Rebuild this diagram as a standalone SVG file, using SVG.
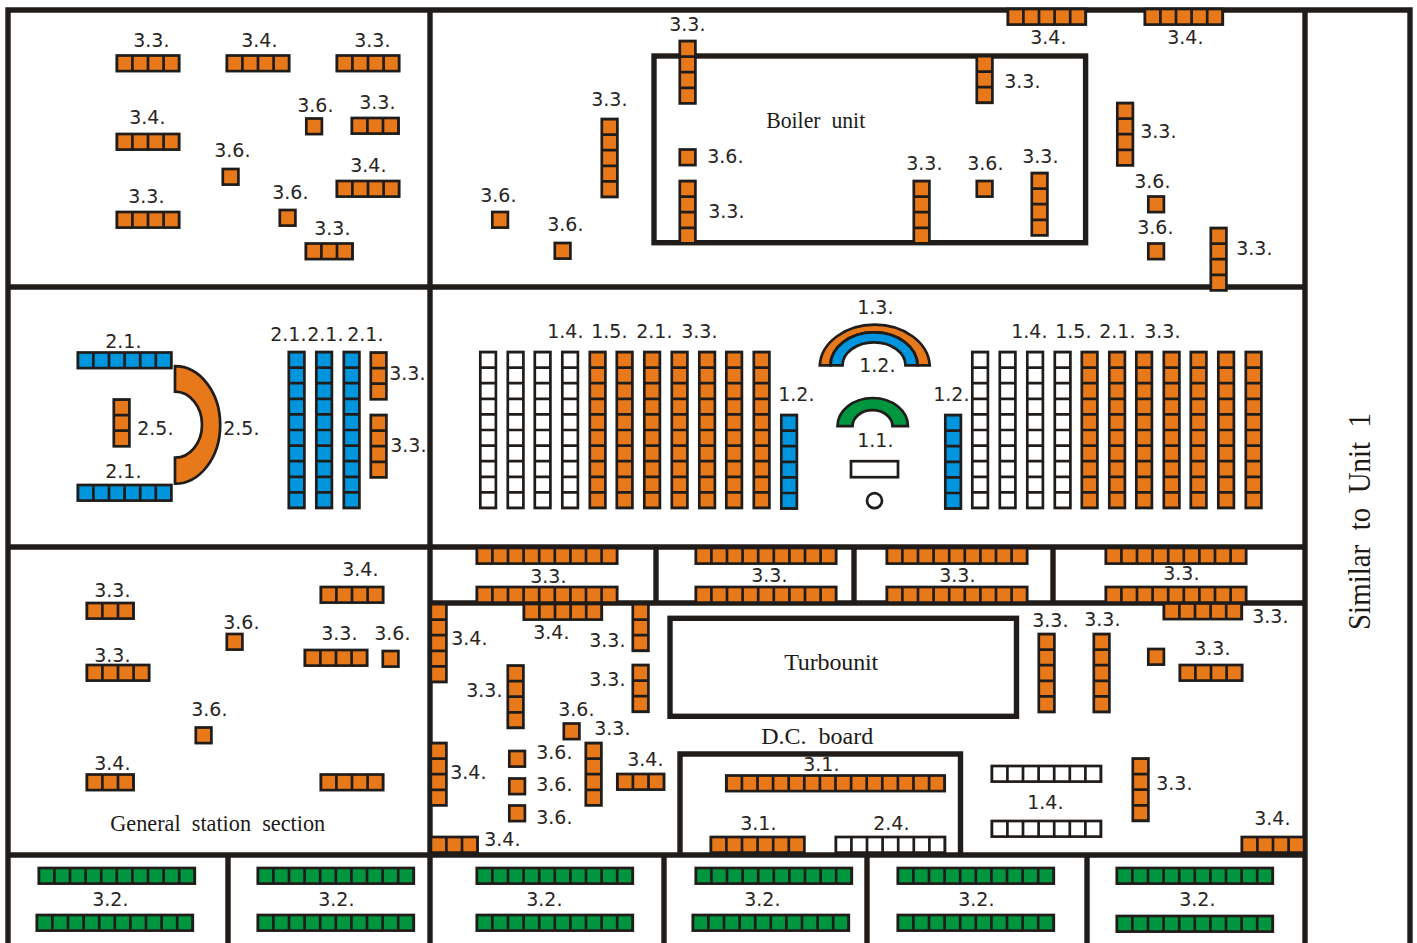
<svg xmlns="http://www.w3.org/2000/svg" width="1417" height="943" viewBox="0 0 1417 943">
<style>
.wall{fill:none;stroke:#201c19;stroke-width:5.4}
.c{stroke:#201c19;stroke-width:2.7;stroke-linejoin:miter}
.d{fill:none;stroke:#201c19;stroke-width:15.6;stroke-dasharray:2.7 12.9;stroke-dashoffset:1.35}
.o{fill:#e8791a}.b{fill:#0095dd}.g{fill:#009640}.w{fill:#fff}
.shape{stroke:#201c19;stroke-width:2.7}
text{font-family:"DejaVu Sans",sans-serif;font-size:19px;fill:#2a2522}
text.s{font-family:"Liberation Serif",serif;font-size:24px;fill:#1d1a18;word-spacing:6px}
</style>
<defs>
<rect id="s1" class="c" x="1.3" y="1.3" width="15.6" height="15.6"/>
<g id="h3"><rect class="c" x="1.3" y="1.3" width="46.8" height="15.6"/><path class="d" d="M1.3 9.1h46.8"/></g>
<g id="h4"><rect class="c" x="1.3" y="1.3" width="62.4" height="15.6"/><path class="d" d="M1.3 9.1h62.4"/></g>
<g id="h5"><rect class="c" x="1.3" y="1.3" width="78" height="15.6"/><path class="d" d="M1.3 9.1h78"/></g>
<g id="h6"><rect class="c" x="1.3" y="1.3" width="93.6" height="15.6"/><path class="d" d="M1.3 9.1h93.6"/></g>
<g id="h7"><rect class="c" x="1.3" y="1.3" width="109.2" height="15.6"/><path class="d" d="M1.3 9.1h109.2"/></g>
<g id="h9"><rect class="c" x="1.3" y="1.3" width="140.4" height="15.6"/><path class="d" d="M1.3 9.1h140.4"/></g>
<g id="h10"><rect class="c" x="1.3" y="1.3" width="156" height="15.6"/><path class="d" d="M1.3 9.1h156"/></g>
<g id="h14"><rect class="c" x="1.3" y="1.3" width="218.4" height="15.6"/><path class="d" d="M1.3 9.1h218.4"/></g>
<g id="v3"><rect class="c" x="1.3" y="1.3" width="15.6" height="46.8"/><path class="d" d="M9.1 1.3v46.8"/></g>
<g id="v4"><rect class="c" x="1.3" y="1.3" width="15.6" height="62.4"/><path class="d" d="M9.1 1.3v62.4"/></g>
<g id="v5"><rect class="c" x="1.3" y="1.3" width="15.6" height="78"/><path class="d" d="M9.1 1.3v78"/></g>
<g id="v6"><rect class="c" x="1.3" y="1.3" width="15.6" height="93.6"/><path class="d" d="M9.1 1.3v93.6"/></g>
<g id="v10"><rect class="c" x="1.3" y="1.3" width="15.6" height="156"/><path class="d" d="M9.1 1.3v156"/></g>
</defs>
<rect width="1417" height="943" fill="#fff"/>
<g id="walls">
<path class="wall" d="M8 943V10H1410V943M1305 10V943M430 10V943M8 287H1305M8 547H1305M430 603H1305M8 855H1305M656 547V603M854 547V603M1053 547V603M228 855V943M664 855V943M867 855V943M1087 855V943"/>
<rect id="boiler-unit" class="wall" x="654" y="56" width="431.6" height="186.7"/>
<rect id="turbounit" class="wall" x="670" y="618.300" width="346.5" height="98"/>
<path id="dc-board" class="wall" d="M680 855V754H960.500V855"/>
</g>
<g id="equipment" transform="translate(-.5 -.3)">
<g id="general-section-top">
<use href="#h4" x="116" y="54.5" class="o"/><use href="#h4" x="226" y="54.5" class="o"/><use href="#h4" x="336" y="54.5" class="o"/>
<use href="#h4" x="116" y="133" class="o"/><use href="#h3" x="351" y="117" class="o"/><use href="#s1" x="305.500" y="117.500" class="o"/>
<use href="#s1" x="222" y="168" class="o"/><use href="#h4" x="336" y="180" class="o"/><use href="#h4" x="116" y="211" class="o"/>
<use href="#s1" x="279" y="209" class="o"/><use href="#h3" x="305" y="242.500" class="o"/>
</g>
<g id="boiler-section">
<use href="#v4" x="679" y="40" class="o"/><use href="#v5" x="601" y="118" class="o"/><use href="#s1" x="491.500" y="211" class="o"/>
<use href="#s1" x="554" y="242" class="o"/><use href="#s1" x="679" y="148.500" class="o"/><use href="#v4" x="679" y="180" class="o"/>
<use href="#v3" x="976" y="55" class="o"/><use href="#v4" x="913" y="180" class="o"/><use href="#s1" x="976" y="180" class="o"/>
<use href="#v4" x="1031" y="172" class="o"/><use href="#h5" x="1007" y="8" class="o"/><use href="#h5" x="1144" y="8" class="o"/>
<use href="#v4" x="1116.500" y="102" class="o"/><use href="#s1" x="1147.500" y="195.500" class="o"/><use href="#s1" x="1147.500" y="242.500" class="o"/>
<use href="#v4" x="1210" y="227" class="o"/>
</g>
<g id="left-section">
<use href="#h6" x="77" y="351.500" class="b"/><use href="#h6" x="77" y="484" class="b"/><use href="#v3" x="113" y="398.500" class="o"/>
<use href="#v10" x="288" y="351" class="b"/><use href="#v10" x="315.500" y="351" class="b"/><use href="#v10" x="343" y="351" class="b"/>
<use href="#v3" x="370" y="351.500" class="o"/><use href="#v4" x="370" y="414" class="o"/>
<path id="arc-2-5" class="shape o" d="M175.500 366.500A45 58.500 0 0 1 175.500 484V458A27 33 0 0 0 175.500 392Z"/>
</g>
<g id="hall-left">
<use href="#v10" x="479.500" y="351" class="w"/><use href="#v10" x="507" y="351" class="w"/><use href="#v10" x="534" y="351" class="w"/><use href="#v10" x="561.500" y="351" class="w"/>
<use href="#v10" x="589" y="351" class="o"/><use href="#v10" x="616" y="351" class="o"/><use href="#v10" x="643.500" y="351" class="o"/><use href="#v10" x="671" y="351" class="o"/>
<use href="#v10" x="698.500" y="351" class="o"/><use href="#v10" x="725.500" y="351" class="o"/><use href="#v10" x="753" y="351" class="o"/><use href="#v6" x="780.500" y="414" class="b"/>
</g>
<g id="hall-centre">
<path id="arch-1-3" class="shape o" d="M820.300 365.700A55 42.500 0 0 1 930.200 365.700H918A43.500 33 0 0 0 831 365.700Z"/>
<path id="arch-1-2" class="shape b" d="M831 365.700A43.500 33 0 0 1 918 365.700H906A31.500 23 0 0 0 843 365.700Z"/>
<path id="arch-1-1" class="shape g" d="M838 426.500A35 28 0 0 1 908.500 426.500H893A20 16 0 0 0 853 426.500Z"/>
<rect id="rect-1-1" class="shape w" x="851.500" y="461.500" width="47" height="16"/>
<circle id="circle-1-1" class="shape w" cx="875" cy="501" r="7.500"/>
</g>
<g id="hall-right">
<use href="#v6" x="944.500" y="414" class="b"/><use href="#v10" x="971.500" y="351" class="w"/><use href="#v10" x="999" y="351" class="w"/><use href="#v10" x="1026.500" y="351" class="w"/><use href="#v10" x="1054" y="351" class="w"/>
<use href="#v10" x="1081" y="351" class="o"/><use href="#v10" x="1108.500" y="351" class="o"/><use href="#v10" x="1135.500" y="351" class="o"/><use href="#v10" x="1163" y="351" class="o"/>
<use href="#v10" x="1190" y="351" class="o"/><use href="#v10" x="1217.500" y="351" class="o"/><use href="#v10" x="1245" y="351" class="o"/>
</g>
<g id="corridor">
<use href="#h9" x="476" y="547" class="o"/><use href="#h9" x="476" y="586" class="o"/><use href="#h9" x="695" y="547" class="o"/><use href="#h9" x="695" y="586" class="o"/>
<use href="#h9" x="886" y="547" class="o"/><use href="#h9" x="886" y="586" class="o"/><use href="#h9" x="1105" y="547" class="o"/><use href="#h9" x="1105" y="586" class="o"/>
</g>
<g id="general-section-bottom">
<use href="#h3" x="86" y="602" class="o"/><use href="#h4" x="320" y="586" class="o"/><use href="#s1" x="226" y="633" class="o"/><use href="#h4" x="304" y="649" class="o"/>
<use href="#s1" x="382" y="650" class="o"/><use href="#h4" x="86" y="664" class="o"/><use href="#s1" x="195" y="726.500" class="o"/><use href="#h3" x="86" y="773.500" class="o"/><use href="#h4" x="320" y="773.500" class="o"/>
</g>
<g id="turbine-west">
<use href="#h5" x="523" y="603" class="o"/><use href="#v3" x="632" y="603" class="o"/><use href="#v3" x="632" y="664" class="o"/><use href="#v5" x="430" y="603" class="o"/>
<use href="#v4" x="507" y="664.500" class="o"/><use href="#s1" x="563" y="722.500" class="o"/><use href="#v4" x="585" y="742" class="o"/><use href="#h3" x="616.500" y="773" class="o"/>
<use href="#s1" x="508.500" y="750" class="o"/><use href="#s1" x="508.500" y="777.500" class="o"/><use href="#s1" x="508.500" y="804.500" class="o"/>
<use href="#v4" x="430" y="742" class="o"/><use href="#h3" x="430" y="836" class="o"/>
</g>
<g id="dc-board-equipment">
<use href="#h14" x="725.500" y="774.500" class="o"/><use href="#h6" x="710" y="836" class="o"/><use href="#h7" x="835" y="836" class="w"/>
</g>
<g id="turbine-east">
<use href="#v5" x="1038" y="633" class="o"/><use href="#v5" x="1093" y="633" class="o"/><use href="#s1" x="1147.500" y="648" class="o"/><use href="#h4" x="1179" y="664" class="o"/>
<use href="#h5" x="1163" y="602.500" class="o"/><use href="#h7" x="991" y="765" class="w"/><use href="#h7" x="991" y="820" class="w"/><use href="#v4" x="1132" y="757.500" class="o"/>
<use href="#h4" x="1241" y="836" class="o"/>
</g>
<g id="bottom-row">
<use href="#h10" x="38" y="867" class="g"/><use href="#h10" x="36" y="914" class="g"/><use href="#h10" x="257" y="867" class="g"/><use href="#h10" x="257" y="914" class="g"/>
<use href="#h10" x="476" y="867" class="g"/><use href="#h10" x="476" y="914" class="g"/><use href="#h10" x="695" y="867" class="g"/><use href="#h10" x="692" y="914" class="g"/>
<use href="#h10" x="897" y="867" class="g"/><use href="#h10" x="897" y="914" class="g"/><use href="#h10" x="1116" y="867" class="g"/><use href="#h10" x="1116" y="915" class="g"/>
</g>
</g>
<g id="labels" transform="translate(-.8 0)">
<text x="134" y="47">3.3.</text><text x="242" y="47">3.4.</text><text x="355" y="47">3.3.</text><text x="130" y="124">3.4.</text><text x="298" y="112">3.6.</text><text x="360" y="109">3.3.</text><text x="215" y="157">3.6.</text><text x="351" y="172">3.4.</text><text x="129" y="203">3.3.</text><text x="273" y="199">3.6.</text><text x="315" y="235">3.3.</text>
<text x="670" y="31">3.3.</text><text x="592" y="106">3.3.</text><text x="481" y="202">3.6.</text><text x="548" y="231">3.6.</text><text x="708" y="163">3.6.</text><text x="709" y="218">3.3.</text><text x="1005" y="88">3.3.</text><text x="907" y="170">3.3.</text><text x="968" y="170">3.6.</text><text x="1023" y="163">3.3.</text><text x="1031" y="44">3.4.</text><text x="1168" y="44">3.4.</text><text x="1141" y="138">3.3.</text><text x="1135" y="188">3.6.</text><text x="1138" y="234">3.6.</text><text x="1237" y="255">3.3.</text>
<text x="106" y="348">2.1.</text><text x="138" y="435">2.5.</text><text x="224" y="435">2.5.</text><text x="106" y="478">2.1.</text><text x="271" y="341">2.1.</text><text x="308" y="341">2.1.</text><text x="348" y="341">2.1.</text><text x="390" y="380">3.3.</text><text x="391" y="452">3.3.</text>
<text x="548" y="338">1.4.</text><text x="592" y="338">1.5.</text><text x="637" y="338">2.1.</text><text x="682" y="338">3.3.</text><text x="858" y="314">1.3.</text><text x="860" y="372">1.2.</text><text x="779" y="401">1.2.</text><text x="934" y="401">1.2.</text><text x="858" y="447">1.1.</text><text x="1012" y="338">1.4.</text><text x="1056" y="338">1.5.</text><text x="1100" y="338">2.1.</text><text x="1145" y="338">3.3.</text>
<text x="531" y="583">3.3.</text><text x="752" y="582">3.3.</text><text x="940" y="582">3.3.</text><text x="1164" y="580">3.3.</text>
<text x="95" y="597">3.3.</text><text x="343" y="576">3.4.</text><text x="224" y="629">3.6.</text><text x="322" y="640">3.3.</text><text x="375" y="640">3.6.</text><text x="95" y="662">3.3.</text><text x="192" y="716">3.6.</text><text x="95" y="770">3.4.</text>
<text x="452" y="645">3.4.</text><text x="534" y="639">3.4.</text><text x="590" y="647">3.3.</text><text x="590" y="686">3.3.</text><text x="467" y="697">3.3.</text><text x="559" y="716">3.6.</text><text x="595" y="735">3.3.</text><text x="537" y="759">3.6.</text><text x="537" y="791">3.6.</text><text x="537" y="824">3.6.</text><text x="451" y="779">3.4.</text><text x="628" y="766">3.4.</text><text x="485" y="846">3.4.</text>
<text x="1033" y="627">3.3.</text><text x="1085" y="626">3.3.</text><text x="1253" y="623">3.3.</text><text x="1195" y="655">3.3.</text><text x="1028" y="809">1.4.</text><text x="1157" y="790">3.3.</text><text x="1255" y="825">3.4.</text>
<text x="804" y="771">3.1.</text><text x="741" y="830">3.1.</text><text x="874" y="830">2.4.</text>
<text x="93" y="906">3.2.</text><text x="319" y="906">3.2.</text><text x="527" y="906">3.2.</text><text x="745" y="906">3.2.</text><text x="959" y="906">3.2.</text><text x="1180" y="906">3.2.</text>
<text class="s" x="767" y="128" textLength="99" lengthAdjust="spacingAndGlyphs">Boiler unit</text>
<text class="s" x="785" y="670" textLength="94" lengthAdjust="spacing">Turbounit</text>
<text class="s" x="762" y="744" textLength="112" lengthAdjust="spacingAndGlyphs">D.C. board</text>
<text class="s" x="111" y="831" textLength="215" lengthAdjust="spacingAndGlyphs">General station section</text>
<text class="s" transform="translate(1371 630) rotate(-90)" style="font-size:32px;word-spacing:8px" textLength="217" lengthAdjust="spacingAndGlyphs">Similar to Unit 1</text>
</g>
</svg>
